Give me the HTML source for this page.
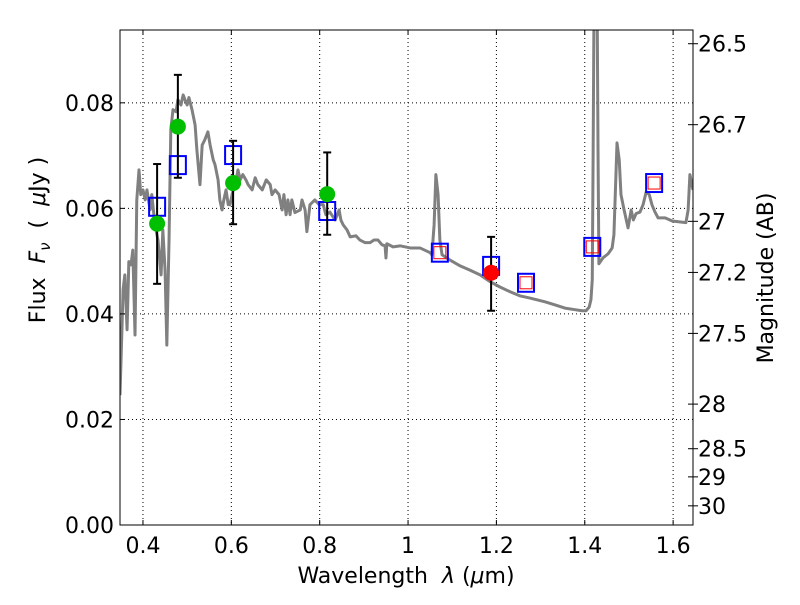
<!DOCTYPE html>
<html><head><meta charset="utf-8"><style>
html,body{margin:0;padding:0;background:#fff;}
svg text{font-family:"DejaVu Sans","Liberation Sans",sans-serif;fill:#000;}
</style></head><body>
<svg id="chart" width="800" height="600" viewBox="0 0 800 600" xmlns="http://www.w3.org/2000/svg">
<defs><clipPath id="clip"><rect x="120" y="30" width="573" height="495"/></clipPath></defs>
<rect x="0" y="0" width="800" height="600" fill="#fff"/>
<g id="grid"></g>
<g id="spec" clip-path="url(#clip)"></g>
<g id="marks" clip-path="url(#clip)"></g>
<rect x="120" y="30" width="573" height="495" fill="none" stroke="#000" stroke-width="1"/>
<g id="axes"></g>
<text x="406" y="583" font-size="22" text-anchor="middle" xml:space="preserve">Wavelength  <tspan font-style="italic">λ</tspan> (<tspan font-style="italic">μ</tspan>m)</text>
<text transform="translate(45,240) rotate(-90)" font-size="22" text-anchor="middle" xml:space="preserve">Flux  <tspan font-style="italic">F</tspan><tspan font-style="italic" font-size="15" dy="5">ν</tspan><tspan dy="-5">  (  </tspan><tspan font-style="italic">μ</tspan>Jy )</text>
<text transform="translate(773,278) rotate(-90)" font-size="22" text-anchor="middle">Magnitude (AB)</text>
</svg>
<script>
const specLambda=[0.348,0.355,0.359,0.364,0.368,0.373,0.377,0.382,0.386,0.391,0.395,0.400,0.405,0.409,0.416,0.420,0.427,0.434,0.441,0.445,0.450,0.454,0.459,0.463,0.468,0.475,0.479,0.486,0.491,0.495,0.500,0.504,0.511,0.518,0.522,0.529,0.534,0.540,0.547,0.552,0.559,0.563,0.570,0.574,0.579,0.583,0.588,0.593,0.597,0.604,0.611,0.615,0.620,0.626,0.633,0.638,0.647,0.654,0.660,0.670,0.679,0.688,0.692,0.699,0.708,0.715,0.719,0.724,0.728,0.733,0.737,0.744,0.756,0.760,0.767,0.771,0.778,0.789,0.799,0.808,0.814,0.823,0.835,0.844,0.848,0.853,0.862,0.869,0.882,0.891,0.903,0.914,0.923,0.932,0.941,0.948,0.950,0.952,0.966,0.982,1.005,1.027,1.050,1.054,1.059,1.063,1.068,1.072,1.077,1.095,1.118,1.140,1.163,1.186,1.208,1.231,1.254,1.276,1.310,1.333,1.355,1.378,1.394,1.403,1.410,1.414,1.417,1.419,1.421,1.428,1.430,1.432,1.441,1.453,1.462,1.466,1.473,1.478,1.482,1.489,1.498,1.505,1.510,1.516,1.525,1.532,1.539,1.546,1.552,1.559,1.566,1.582,1.598,1.629,1.634,1.638,1.645];
const specFlux=[0.0246,0.0446,0.0474,0.0370,0.0499,0.0493,0.0521,0.0360,0.0616,0.0673,0.0626,0.0635,0.0616,0.0635,0.0597,0.0626,0.0569,0.0540,0.0474,0.0559,0.0483,0.0341,0.0540,0.0749,0.0787,0.0783,0.0806,0.0796,0.0815,0.0806,0.0796,0.0810,0.0787,0.0758,0.0711,0.0645,0.0720,0.0730,0.0745,0.0720,0.0692,0.0683,0.0654,0.0616,0.0597,0.0616,0.0635,0.0607,0.0607,0.0635,0.0654,0.0673,0.0654,0.0664,0.0654,0.0645,0.0635,0.0658,0.0645,0.0635,0.0654,0.0645,0.0626,0.0635,0.0626,0.0597,0.0626,0.0588,0.0616,0.0588,0.0616,0.0592,0.0597,0.0616,0.0597,0.0556,0.0607,0.0616,0.0607,0.0607,0.0588,0.0593,0.0578,0.0597,0.0578,0.0569,0.0559,0.0546,0.0548,0.0540,0.0535,0.0535,0.0540,0.0540,0.0531,0.0529,0.0506,0.0533,0.0527,0.0529,0.0525,0.0525,0.0516,0.0512,0.0569,0.0664,0.0626,0.0540,0.0512,0.0502,0.0491,0.0483,0.0474,0.0461,0.0451,0.0442,0.0434,0.0430,0.0423,0.0417,0.0411,0.0408,0.0406,0.0406,0.0413,0.0427,0.0465,0.0711,0.0995,0.0995,0.0711,0.0495,0.0506,0.0514,0.0525,0.0550,0.0724,0.0692,0.0626,0.0597,0.0563,0.0597,0.0578,0.0590,0.0593,0.0607,0.0631,0.0626,0.0607,0.0593,0.0582,0.0582,0.0576,0.0573,0.0597,0.0664,0.0635];
const greenLambda=[0.432,0.479,0.604,0.817];
const greenFlux=[0.0571,0.0755,0.0648,0.0627];
const greenLo=[0.0457,0.0658,0.0570,0.0550];
const greenHi=[0.0684,0.0853,0.0728,0.0706];
const redLambda=[1.188];
const redFlux=[0.0478];
const redLo=[0.0406];
const redHi=[0.0546];
const blueLambda=[0.432,0.479,0.604,0.817,1.072,1.188,1.267,1.417,1.557];
const blueFlux=[0.0603,0.0682,0.0701,0.0595,0.0516,0.0491,0.0459,0.0527,0.0648];
const modelLambda=[1.072,1.267,1.417,1.557];
const modelFlux=[0.0516,0.0459,0.0527,0.0648];
const xTicks=[0.4,0.6,0.8,1.0,1.2,1.4,1.6];
const xTickLabels=["0.4","0.6","0.8","1","1.2","1.4","1.6"];
const yTicks=[0,0.02,0.04,0.06,0.08];
const yTickLabels=["0.00","0.02","0.04","0.06","0.08"];
const magTicks=[26.5,26.7,27,27.2,27.5,28,28.5,29,30];
const magTickLabels=["26.5","26.7","27","27.2","27.5","28","28.5","29","30"];

const X0=0.348,X1=1.645,Y0=0,Y1=0.0938,L=120,R=693,T=30,B=525;
const sx=v=>L+(v-X0)/(X1-X0)*(R-L);
const sy=v=>B-(v-Y0)/(Y1-Y0)*(B-T);
const magToFlux=m=>Math.pow(10,(23.9-m)/2.5);
const NS="http://www.w3.org/2000/svg";
function mk(tag,attrs,parent){const e=document.createElementNS(NS,tag);for(const k in attrs)e.setAttribute(k,attrs[k]);parent.appendChild(e);return e;}
const grid=document.getElementById('grid'),axes=document.getElementById('axes'),spec=document.getElementById('spec'),marks=document.getElementById('marks');

xTicks.forEach((t,i)=>{const x=sx(t);
 const g=mk('line',{x1:x,x2:x,y1:T,y2:B,stroke:'#000','stroke-dasharray':'1,3','stroke-width':1},grid);
 
 
 mk('line',{x1:x,x2:x,y1:B,y2:B-5,stroke:'#000'},axes);
 mk('line',{x1:x,x2:x,y1:T,y2:T+5,stroke:'#000'},axes);
 const tx=mk('text',{x:x,y:B+28,'font-size':22,'text-anchor':'middle'},axes);tx.textContent=xTickLabels[i];
 
 
});
yTicks.forEach((t,i)=>{const y=sy(t);
 if(t>0){const g=mk('line',{x1:L,x2:R,y1:y,y2:y,stroke:'#000','stroke-dasharray':'1,3','stroke-width':1},grid);
 
 }
 mk('line',{x1:L,x2:L+5,y1:y,y2:y,stroke:'#000'},axes);
 const tx=mk('text',{x:L-6,y:y+8,'font-size':22,'text-anchor':'end'},axes);tx.textContent=yTickLabels[i];
 
 
});
magTicks.forEach((m,i)=>{const y=sy(magToFlux(m));
 mk('line',{x1:R-5,x2:R+5,y1:y,y2:y,stroke:'#000'},axes);
 const tx=mk('text',{x:R+5,y:y+8,'font-size':22},axes);tx.textContent=magTickLabels[i];
 
 
});
const p=mk('polyline',{points:specLambda.map((l,i)=>sx(l)+','+sy(specFlux[i])).join(' '),fill:'none',stroke:'#808080','stroke-width':3,'stroke-linejoin':'round'},spec);



blueLambda.forEach((l,i)=>{const x=sx(l),y=sy(blueFlux[i]);
 const r=mk('rect',{x:x-8,y:y-9,width:16,height:18,fill:'none',stroke:'#0000ff','stroke-width':2},marks);
 
 
});
modelLambda.forEach((l,i)=>{const x=sx(l),y=sy(modelFlux[i]);
 const r=mk('rect',{x:x-6,y:y-6,width:12,height:12,fill:'none',stroke:'#ff0000','stroke-width':1},marks);
 
 
});
function errPoint(l,f,lo,hi,color,name){const x=sx(l);
 const g=mk('g',{},marks);
 
 
 mk('line',{x1:x,x2:x,y1:sy(lo),y2:sy(hi),stroke:'#000','stroke-width':2},g);
 mk('line',{x1:x-4,x2:x+4,y1:sy(lo),y2:sy(lo),stroke:'#000','stroke-width':2},g);
 mk('line',{x1:x-4,x2:x+4,y1:sy(hi),y2:sy(hi),stroke:'#000','stroke-width':2},g);
 mk('circle',{cx:x,cy:sy(f),r:8,fill:color},g);
}
greenLambda.forEach((l,i)=>errPoint(l,greenFlux[i],greenLo[i],greenHi[i],'#00bf00','observed-point-green'));
redLambda.forEach((l,i)=>errPoint(l,redFlux[i],redLo[i],redHi[i],'#ff0000','observed-point-red'));
</script>
</body></html>
